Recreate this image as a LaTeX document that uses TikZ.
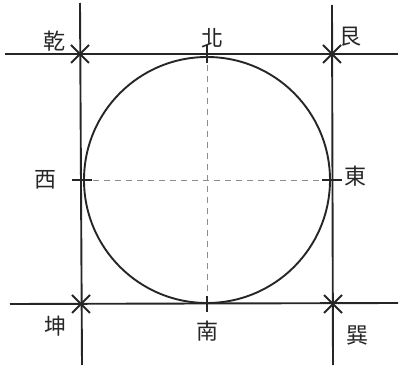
\documentclass[tikz,border=0pt]{standalone}
\usepackage{fontspec}
\newfontfamily\cjkfont{Noto Sans CJK TC}
\usetikzlibrary{positioning, calc}

\begin{document}
\begin{tikzpicture}[
        x=1pt, y=-1pt, node distance=6pt,
        frame/.style={line width=1.9pt, black!85},
        axis/.style={line width=0.9pt, black!45, dash pattern=on 6pt off 5pt},
        lbl/.style={font=\cjkfont\fontsize{22}{22}\selectfont, inner sep=0pt, black!85}
    ]
    \useasboundingbox (0,0) rectangle (400,369);
    % square corners and middle points
    \coordinate (nw) at (80,54);
    \coordinate (ne) at (332,54);
    \coordinate (sw) at (81,304);
    \coordinate (se) at (333,304);
    \coordinate (c) at (207,180);
    \coordinate (tN) at (207,54);
    \coordinate (tS) at (207,304);
    \coordinate (tW) at (82,180);
    \coordinate (tE) at (332,180);
    % free ends of the long lines
    \coordinate (topL) at (5,54);
    \coordinate (topR) at (398,54);
    \coordinate (botL) at (10,304);
    \coordinate (botR) at (398,303);
    \coordinate (lftT) at (80,3);
    \coordinate (lftB) at (82,365);
    \coordinate (rgtT) at (332,5);
    \coordinate (rgtB) at (333,365);

    \draw[frame] (topL) -- (topR);
    \draw[frame] (botL) -- (botR);
    \draw[frame] (lftT) -- (lftB);
    \draw[frame] (rgtT) -- (rgtB);
    \draw[frame] (c) circle[radius=123pt];

    \draw[axis] (tN) -- (tS);
    \draw[axis] (tW) -- (tE);

    % ticks
    \draw[frame] ($(tN)+(0,-9)$) -- ($(tN)+(0,9)$);
    \draw[frame] ($(tS)+(0,-8)$) -- ($(tS)+(0,8)$);
    \draw[frame] ($(tW)+(-10,0)$) -- ($(tW)+(10,0)$);
    \draw[frame] ($(tE)+(-10,0)$) -- ($(tE)+(10,0)$);
    \foreach \p in {nw,ne,sw,se}
        \draw[frame] ($(\p)+(-9,-9)$) -- ($(\p)+(9,9)$) ($(\p)+(-9,9)$) -- ($(\p)+(9,-9)$);

    \node[lbl, above left=3pt and 14pt of nw] (qian) {乾};
    \node[lbl, above=6pt of tN, xshift=5pt] (bei) {北};
    \node[lbl, above right=7pt and 7pt of ne] (gen) {艮};
    \node[lbl, left=25pt of tW] (xi) {西};
    \node[lbl, right=12pt of tE, yshift=4pt] (dong) {東};
    \node[lbl, below left=12pt and 14pt of sw] (kun) {坤};
    \node[lbl, below=17pt of tS] (nan) {南};
    \node[lbl, below right=22pt and 13pt of se] (xun) {巽};
\end{tikzpicture}
\end{document}
